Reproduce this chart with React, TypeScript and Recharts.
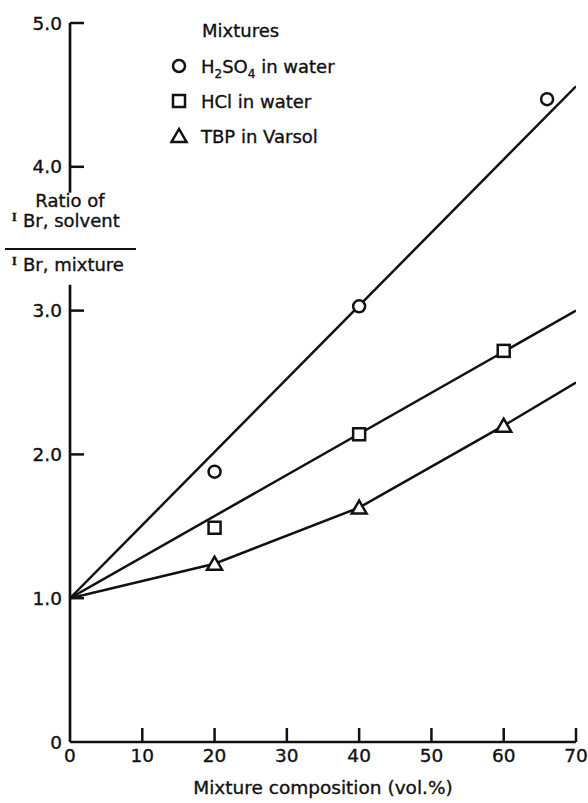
import React from 'react';
import {
  ComposedChart,
  Line,
  Scatter,
  XAxis,
  YAxis,
  ReferenceLine,
  Legend,
  Customized,
} from 'recharts';

// measured points
const h2so4X = [20, 40, 66];
const h2so4Y = [1.88, 3.03, 4.47];
const hclX = [20, 40, 60];
const hclY = [1.49, 2.14, 2.72];
const tbpX = [20, 40, 60];
const tbpY = [1.24, 1.63, 2.2];

// drawn lines through the data
const h2so4FitX = [0, 70];
const h2so4FitY = [1, 4.56];
const hclFitX = [0, 70];
const hclFitY = [1, 3.0];
const tbpFitX = [0, 20, 40, 60, 70];
const tbpFitY = [1, 1.24, 1.63, 2.2, 2.5];

const xTicks = [0, 10, 20, 30, 40, 50, 60, 70];
const yTicks = [0, 1, 2, 3, 4, 5];

const zip = (xs: number[], ys: number[]) => xs.map((x, i) => ({ x, y: ys[i] }));

const FONT = '"DejaVu Sans", sans-serif';
const INK = '#111';
const TXT = { stroke: INK, strokeWidth: 0.35 };

const CircleMark = (p: any) => (
  <circle cx={p.cx} cy={p.cy} r={6} fill="#fff" stroke={INK} strokeWidth={2.5} />
);
const SquareMark = (p: any) => (
  <rect x={p.cx - 6} y={p.cy - 6} width={12} height={12} fill="#fff" stroke={INK} strokeWidth={2.5} />
);
const TriangleMark = (p: any) => (
  <polygon
    points={`${p.cx},${p.cy - 7} ${p.cx - 7.5},${p.cy + 6} ${p.cx + 7.5},${p.cy + 6}`}
    fill="#fff"
    stroke={INK}
    strokeWidth={2.5}
  />
);

const YTick = ({ x, y, payload }: any) => (
  <g>
    {payload.value !== 0 && (
      <line x1={x + 8} x2={x + 22} y1={y} y2={y} stroke={INK} strokeWidth={2.5} />
    )}
    <text x={x} y={y} dy="0.36em" textAnchor="end" fontFamily={FONT} fontSize={18.5} fill={INK} {...TXT}>
      {payload.value === 0 ? '0' : payload.value.toFixed(1)}
    </text>
  </g>
);

const XTick = ({ x, y, payload }: any) => (
  <g>
    {payload.value !== 0 && (
      <line x1={x} x2={x} y1={y - 6} y2={y - 20} stroke={INK} strokeWidth={2.5} />
    )}
    <text x={x} y={y + 14} textAnchor="middle" fontFamily={FONT} fontSize={18.5} fill={INK} {...TXT}>
      {payload.value}
    </text>
  </g>
);

const markFor: Record<string, any> = {
  h2so4: (cx: number, cy: number) => <CircleMark cx={cx} cy={cy} />,
  hcl: (cx: number, cy: number) => <SquareMark cx={cx} cy={cy} />,
  tbp: (cx: number, cy: number) => <TriangleMark cx={cx} cy={cy} />,
};

const LegendBox = ({ payload }: any) => {
  const items = (payload || []).filter((p: any) => markFor[p.value]);
  const rowY = [66, 101, 136];
  return (
    <svg width={240} height={160} style={{ display: 'block' }}>
      <text x={52} y={37} fontFamily={FONT} fontSize={18} fill={INK} {...TXT}>
        Mixtures
      </text>
      {items.map((p: any, i: number) => (
        <g key={p.value}>
          {markFor[p.value](29, rowY[i])}
          <text x={51} y={rowY[i] + 7} fontFamily={FONT} fontSize={18} fill={INK} {...TXT}>
            {p.value === 'h2so4' ? (
              <>
                H<tspan fontSize={12} dy={5}>2</tspan>
                <tspan dy={-5}>SO</tspan>
                <tspan fontSize={12} dy={5}>4</tspan>
                <tspan dy={-5}> in water</tspan>
              </>
            ) : p.value === 'hcl' ? (
              'HCl in water'
            ) : (
              'TBP in Varsol'
            )}
          </text>
        </g>
      ))}
    </svg>
  );
};

const YLabel = () => (
  <g fontFamily={FONT} fontSize={18} fill={INK} {...TXT}>
    <text x={70} y={207} textAnchor="middle">Ratio of</text>
    <text x={12} y={221} fontFamily='"Liberation Serif", serif' fontSize={12} fontWeight="bold">I</text>
    <text x={23} y={227}>Br, solvent</text>
    <line x1={5} x2={136} y1={249} y2={249} stroke={INK} strokeWidth={2.2} />
    <text x={12} y={265} fontFamily='"Liberation Serif", serif' fontSize={12} fontWeight="bold">I</text>
    <text x={23} y={271}>Br, mixture</text>
  </g>
);

export default function App() {
  return (
    <div style={{ position: 'absolute', left: 0, top: 0, background: '#fff' }}>
      <ComposedChart width={588} height={803} margin={{ top: 23, right: 12, bottom: 0, left: 0 }}>
        <XAxis
          type="number"
          dataKey="x"
          domain={[0, 70]}
          ticks={xTicks}
          interval={0}
          allowDataOverflow
          height={61}
          tickSize={0}
          tickMargin={6}
          tickLine={false}
          tick={<XTick />}
          axisLine={{ stroke: INK, strokeWidth: 2.7 }}
          label={{
            value: 'Mixture composition (vol.%)',
            position: 'insideBottom',
            offset: 9,
            style: { fontFamily: FONT, fontSize: 18.5, fill: INK, stroke: INK, strokeWidth: 0.35 },
          }}
        />
        <YAxis
          type="number"
          dataKey="y"
          domain={[0, 5]}
          ticks={yTicks}
          interval={0}
          width={70}
          tickSize={0}
          tickMargin={8}
          tickLine={false}
          tick={<YTick />}
          axisLine={false}
        />
        <ReferenceLine
          segment={[{ x: 0, y: 0 }, { x: 0, y: 3.18 }]}
          stroke={INK}
          strokeWidth={2.7}
        />
        <ReferenceLine
          segment={[{ x: 0, y: 3.82 }, { x: 0, y: 5 }]}
          stroke={INK}
          strokeWidth={2.7}
        />
        <Line data={zip(h2so4FitX, h2so4FitY)} dataKey="y" type="linear" stroke={INK} strokeWidth={2.5} dot={false} activeDot={false} legendType="none" isAnimationActive={false} />
        <Line data={zip(hclFitX, hclFitY)} dataKey="y" type="linear" stroke={INK} strokeWidth={2.5} dot={false} activeDot={false} legendType="none" isAnimationActive={false} />
        <Line data={zip(tbpFitX, tbpFitY)} dataKey="y" type="linear" stroke={INK} strokeWidth={2.5} dot={false} activeDot={false} legendType="none" isAnimationActive={false} />
        <Scatter name="h2so4" data={zip(h2so4X, h2so4Y)} shape={CircleMark} isAnimationActive={false} />
        <Scatter name="hcl" data={zip(hclX, hclY)} shape={SquareMark} isAnimationActive={false} />
        <Scatter name="tbp" data={zip(tbpX, tbpY)} shape={TriangleMark} isAnimationActive={false} />
        <Legend
          layout="vertical"
          align="center"
          verticalAlign="middle"
          content={<LegendBox />}
          wrapperStyle={{ position: 'absolute', left: 150, top: 0, width: 240, height: 160 }}
        />
        <Customized component={YLabel} />
      </ComposedChart>
    </div>
  );
}
